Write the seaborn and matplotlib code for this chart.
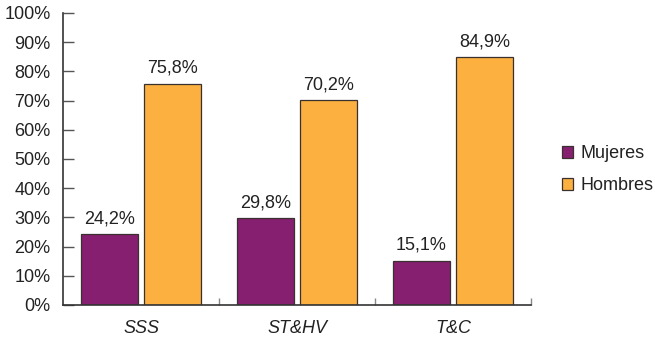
import matplotlib
matplotlib.use("Agg")
import matplotlib.pyplot as plt
import seaborn as sns
import pandas as pd
from matplotlib.patches import Patch
from matplotlib.ticker import FixedLocator, PercentFormatter

# Data: share of women and men per group (%)
categories = ["SSS", "ST&HV", "T&C"]
series_names = ["Mujeres", "Hombres"]
mujeres = [24.2, 29.8, 15.1]
hombres = [75.8, 70.2, 84.9]
y_ticks = list(range(0, 101, 10))

colors = {"Mujeres": "#861F6F", "Hombres": "#FBB040"}

df = pd.DataFrame({
    "grupo": categories * 2,
    "sexo": [series_names[0]] * len(categories) + [series_names[1]] * len(categories),
    "valor": mujeres + hombres,
})

sns.set_style("white")
plt.rcParams["font.family"] = ["Liberation Sans", "DejaVu Sans"]

FS = 13

fig = plt.figure(figsize=(6.55, 3.41), dpi=100)
ax = fig.add_axes([0.0962, 0.1056, 0.7145, 0.8563])

sns.barplot(data=df, x="grupo", y="valor", hue="sexo", order=categories,
            hue_order=series_names, palette=colors, width=0.808, gap=0.1,
            edgecolor="#3a3030", linewidth=0.9, saturation=1, legend=False,
            ax=ax)

# Value labels with comma decimal separator
for cont in ax.containers:
    labels = [f"{b.get_height():.1f}".replace(".", ",") + "%" for b in cont]
    ax.bar_label(cont, labels=labels, padding=5, fontsize=FS, color="#222222")

ax.set_xlim(-0.5, 2.5)
ax.set_ylim(0, 100)
ax.yaxis.set_major_locator(FixedLocator(y_ticks))
ax.yaxis.set_major_formatter(PercentFormatter(decimals=0))
ax.tick_params(axis="y", direction="in", length=8, width=1, color="#555555",
               labelsize=FS, labelcolor="#222222", pad=9, left=True)
ax.set_xticks(range(len(categories)))
ax.set_xticklabels(categories, fontstyle="italic", fontsize=FS, color="#222222")
ax.tick_params(axis="x", length=0, pad=11)
ax.set_xticks([0.5, 1.5, 2.5], minor=True)
ax.tick_params(axis="x", which="minor", direction="in", length=5, width=1,
               color="#888888", bottom=True)
ax.set_xlabel("")
ax.set_ylabel("")

for side in ("top", "right"):
    ax.spines[side].set_visible(False)
for side in ("left", "bottom"):
    ax.spines[side].set_color("#333333")
    ax.spines[side].set_linewidth(1.2)

handles = [Patch(facecolor=colors[n], edgecolor="#3a3030", linewidth=0.9)
           for n in series_names]
fig.legend(handles, series_names, loc="center left", bbox_to_anchor=(0.858, 0.502),
           frameon=False, fontsize=FS, handlelength=0.62, handleheight=0.62,
           handletextpad=0.42, labelspacing=0.85, labelcolor="#222222",
           borderpad=0, borderaxespad=0)

fig.savefig("out.png", dpi=100)
